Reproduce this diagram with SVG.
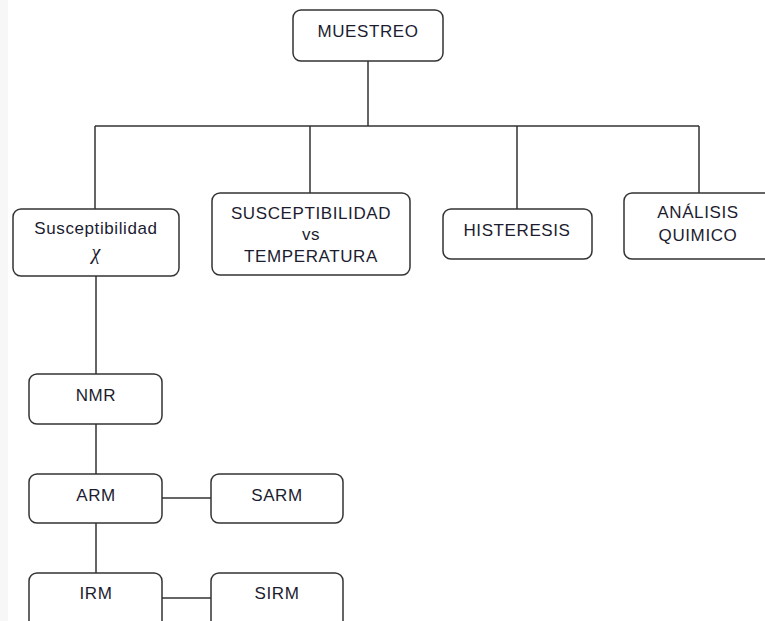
<svg xmlns="http://www.w3.org/2000/svg" width="765" height="621" viewBox="0 0 765 621">
<style>
.box{fill:#ffffff;stroke:#333333;stroke-width:1.5}
.t{font-family:"Liberation Sans",Arial,sans-serif;font-size:17px;letter-spacing:0.6px;fill:#1c1c30;text-anchor:middle}
.c{fill:none;stroke:#333333;stroke-width:1.5}
</style>
<rect x="0" y="0" width="765" height="621" fill="#ffffff"/>
<rect x="0" y="0" width="8" height="621" fill="#f7f7f7"/>
<g id="connectors">
<path class="c" d="M368 61V126M95 126H699M95 126V209M310 126V193M517 126V209M699 126V193"/>
<path class="c" d="M96 276V374M96 424V474M96 523V573M162 498H211M162 598H211"/>
</g>
<g id="muestreo"><rect class="box" x="293" y="10" width="150" height="51" rx="8"/><text class="t" x="368" y="37">MUESTREO</text></g>
<g id="susceptibilidad"><rect class="box" x="13" y="209" width="166" height="67" rx="8"/><text class="t" x="96" y="234">Susceptibilidad</text><text x="96" y="259" font-family="'Liberation Serif',serif" font-style="italic" font-size="20" fill="#1c1c30" text-anchor="middle">χ</text></g>
<g id="suscep-temp"><rect class="box" x="212" y="193" width="198" height="82" rx="8"/><text class="t" x="311" y="219">SUSCEPTIBILIDAD</text><text class="t" x="311" y="240">vs</text><text class="t" x="311" y="262">TEMPERATURA</text></g>
<g id="histeresis"><rect class="box" x="443" y="209" width="149" height="50" rx="8"/><text class="t" x="517" y="236">HISTERESIS</text></g>
<g id="analisis"><rect class="box" x="624" y="193" width="150" height="66" rx="8"/><text class="t" x="698" y="218">ANÁLISIS</text><text class="t" x="698" y="241">QUIMICO</text></g>
<g id="nmr"><rect class="box" x="29" y="374" width="133" height="50" rx="8"/><text class="t" x="96" y="401">NMR</text></g>
<g id="arm"><rect class="box" x="29" y="474" width="133" height="49" rx="8"/><text class="t" x="96" y="501">ARM</text></g>
<g id="sarm"><rect class="box" x="211" y="474" width="132" height="49" rx="8"/><text class="t" x="277" y="501">SARM</text></g>
<g id="irm"><rect class="box" x="29" y="573" width="133" height="60" rx="8"/><text class="t" x="96" y="599">IRM</text></g>
<g id="sirm"><rect class="box" x="211" y="573" width="132" height="60" rx="8"/><text class="t" x="277" y="599">SIRM</text></g>
</svg>
